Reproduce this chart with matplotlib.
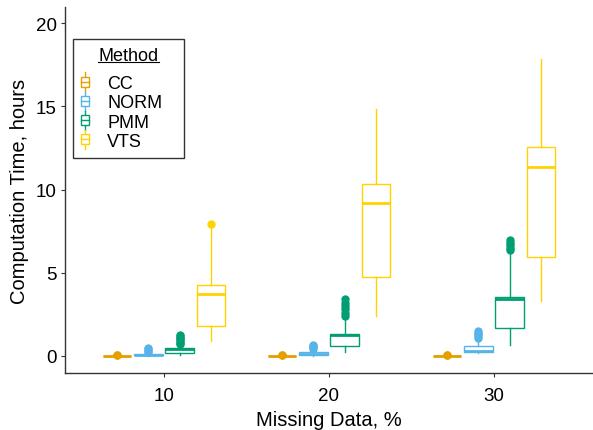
import matplotlib
matplotlib.use('Agg')
import matplotlib.pyplot as plt
from matplotlib.legend_handler import HandlerBase
from matplotlib.patches import Rectangle
from matplotlib.lines import Line2D

plt.rcParams['font.family'] = ['Liberation Sans', 'DejaVu Sans']

groups = ['10', '20', '30']
methods = ['CC', 'NORM', 'PMM', 'VTS']
colors = ['#E69F00', '#56B4E9', '#009E73', '#FFD200']

# box stats per method, one value per missing-data group
whislo = {'CC': [0.0, 0.0, 0.0], 'NORM': [0.02, 0.02, 0.18],
          'PMM': [0.06, 0.22, 0.66], 'VTS': [0.92, 2.43, 3.3]}
q1 = {'CC': [0.0, 0.0, 0.0], 'NORM': [0.05, 0.08, 0.26],
      'PMM': [0.16, 0.6, 1.67], 'VTS': [1.83, 4.72, 5.95]}
med = {'CC': [0.01, 0.01, 0.01], 'NORM': [0.08, 0.14, 0.3],
       'PMM': [0.42, 1.27, 3.45], 'VTS': [3.75, 9.18, 11.35]}
q3 = {'CC': [0.02, 0.02, 0.02], 'NORM': [0.12, 0.26, 0.6],
      'PMM': [0.48, 1.35, 3.55], 'VTS': [4.24, 10.32, 12.57]}
whishi = {'CC': [0.03, 0.03, 0.03], 'NORM': [0.2, 0.4, 1.0],
          'PMM': [0.62, 2.25, 6.25], 'VTS': [7.7, 14.82, 17.83]}
fliers = {'CC': [[0.05, 0.06], [0.05, 0.06], [0.05, 0.06]],
          'NORM': [[0.25, 0.32, 0.4, 0.48], [0.45, 0.55, 0.62, 0.68],
                   [1.08, 1.2, 1.3, 1.4, 1.5]],
          'PMM': [[0.7, 0.8, 0.9, 1.0, 1.1, 1.2, 1.28],
                  [2.4, 2.6, 2.8, 3.0, 3.2, 3.45],
                  [6.35, 6.5, 6.65, 6.8, 6.95]],
          'VTS': [[7.95], [], []]}


class BoxHandler(HandlerBase):
    # small boxplot glyph for the legend keys
    def create_artists(self, legend, orig_handle, xdescent, ydescent,
                       width, height, fontsize, trans):
        c = orig_handle.get_color()
        cx = width / 2 - xdescent
        w = width
        h = fontsize * 0.55
        y0 = height / 2 - ydescent
        wl = fontsize * 0.25
        box = Rectangle((cx - w / 2, y0 - h / 2), w, h, facecolor='white',
                        edgecolor=c, lw=1.0, transform=trans)
        mid = Line2D([cx - w / 2, cx + w / 2], [y0, y0], color=c, lw=1.0, transform=trans)
        top = Line2D([cx, cx], [y0 + h / 2, y0 + h / 2 + wl], color=c, lw=1.0, transform=trans)
        bot = Line2D([cx, cx], [y0 - h / 2, y0 - h / 2 - wl], color=c, lw=1.0, transform=trans)
        return [top, bot, box, mid]


fig = plt.figure(figsize=(5.93, 4.31), dpi=100)
ax = fig.add_axes([0.1096, 0.1323, 0.8904, 0.849])

step = 0.19
handles = []
for j, m in enumerate(methods):
    c = colors[j]
    stats = []
    for g in range(len(groups)):
        stats.append({'med': med[m][g], 'q1': q1[m][g], 'q3': q3[m][g],
                      'whislo': whislo[m][g], 'whishi': whishi[m][g],
                      'fliers': fliers[m][g]})
    pos = [g + 1 + (j - 1.5) * step for g in range(len(groups))]
    ax.bxp(stats, positions=pos, widths=0.175, showcaps=False, patch_artist=True,
           boxprops=dict(facecolor='white', edgecolor=c, lw=1.0),
           medianprops=dict(color=c, lw=2.0),
           whiskerprops=dict(color=c, lw=1.0),
           flierprops=dict(marker='o', markerfacecolor=c, markeredgecolor=c,
                           markersize=5, linestyle='none'),
           manage_ticks=False)
    handles.append(Line2D([], [], color=c))

ax.set_xlim(0.4, 3.6)
ax.set_ylim(-1.02, 20.96)
ax.set_xticks([1, 2, 3])
ax.set_xticklabels(groups)
ax.set_yticks([0, 5, 10, 15, 20])
ax.tick_params(labelsize=13.5, length=3, colors='#333333', labelcolor='black')
ax.tick_params(axis='x', pad=7)
ax.tick_params(axis='y', pad=3)
for s in ['top', 'right']:
    ax.spines[s].set_visible(False)
for s in ['left', 'bottom']:
    ax.spines[s].set_color('#333333')
    ax.spines[s].set_linewidth(1.0)
ax.set_xlabel('Missing Data, %', fontsize=14.5, labelpad=4.5)
ax.set_ylabel('Computation Time, hours', fontsize=14.5, labelpad=5)

leg = ax.legend(handles, methods, title='Method', loc='upper left',
                bbox_to_anchor=(0.0152, 0.3, 0.210, 0.6126), mode='expand',
                borderaxespad=0, handler_map={Line2D: BoxHandler()},
                fontsize=13, title_fontsize=13, frameon=True, fancybox=False,
                edgecolor='black', handlelength=0.45, handleheight=0.7,
                handletextpad=1.0, labelspacing=0.12, borderpad=0.45)
leg.get_frame().set_linewidth(1.0)
leg._legend_box.sep = 8  # extra gap under the title

# underline the legend title
fig.canvas.draw()
bb = leg.get_title().get_window_extent().transformed(fig.transFigure.inverted())
fig.add_artist(Line2D([bb.x0, bb.x1], [bb.y0 + 0.006, bb.y0 + 0.006],
                      color='black', lw=0.8, transform=fig.transFigure))

fig.savefig('out.png', dpi=100)
